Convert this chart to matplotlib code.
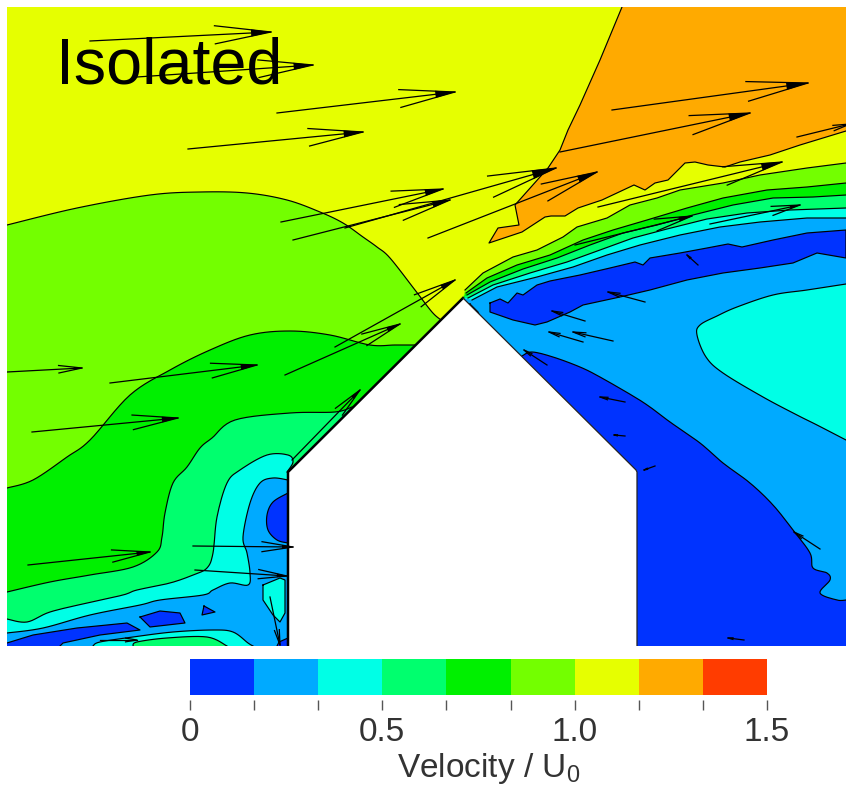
import numpy as np
import matplotlib
matplotlib.use("Agg")
import matplotlib.pyplot as plt

plt.rcParams['font.family'] = ['Liberation Sans', 'DejaVu Sans']
plt.rcParams['mathtext.fontset'] = 'custom'
plt.rcParams['mathtext.rm'] = 'Liberation Sans'

W, H = 846, 786

# velocity bands of the colour scale
levels = np.linspace(0, 1.5, 10)
band_colors = ['#0033FF', '#00AAFF', '#00FFE6', '#00FF6E', '#00F000',
               '#73FF00', '#E6FF00', '#FFAA00', '#FF3C00']
BLUE, LTBLUE, CYAN, SPRING, GREEN, LIME, YELLOW, ORANGE, RED = band_colors
cbar_labels = {0: '0', 3: '0.5', 6: '1.0', 9: '1.5'}

# building outline
building = [(288, 646), (288, 471), (463, 298), (637, 471), (637, 646)]

# contours, image pixel coordinates
left_lime = [(7, 225), (77, 208), (150, 195), (200, 192), (247, 193), (287, 200), (320, 212),
             (343, 223), (363, 237), (377, 247), (390, 258), (415, 290), (432, 312), (441, 320)]
left_green = [(7, 488), (33, 480), (67, 457), (90, 440), (130, 395), (170, 370), (210, 350),
              (250, 335), (290, 331), (330, 335), (370, 345), (395, 345), (415, 345)]
left_spring = [(7, 592), (50, 582), (90, 575), (133, 567), (157, 552), (162, 537), (165, 513),
               (173, 483), (187, 467), (200, 448), (212, 438), (235, 420), (290, 413),
               (335, 412), (352, 407)]
left_cyan = [(7, 619), (27, 622), (50, 612), (87, 603), (123, 595), (137, 590), (170, 583),
             (193, 575), (207, 568), (213, 553), (217, 517), (227, 483), (240, 470),
             (267, 455), (288, 455), (293, 462), (287, 472)]
left_ltblue = [(7, 633), (43, 628), (90, 615), (140, 605), (160, 600), (203, 595), (213, 590),
               (230, 583), (248, 585), (250, 573), (247, 553), (243, 537), (250, 503),
               (260, 483), (273, 478), (288, 480)]
wall_blue = [(288, 493), (273, 502), (267, 515), (268, 530), (277, 540), (288, 543)]
wall_cyan = [(263, 585), (280, 578), (285, 580), (285, 613), (280, 622), (273, 615), (263, 600), (263, 585)]
island_blue = [(140, 617), (160, 611), (180, 613), (185, 623), (150, 627), (140, 617)]
island_tri = [(204, 606), (215, 612), (202, 615), (204, 606)]
corner_blue = [(7, 643), (33, 635), (77, 628), (127, 623), (140, 630), (100, 635), (63, 643), (60, 646)]
floor_cyan = [(93, 646), (100, 642), (133, 637), (173, 632), (213, 630), (233, 632), (248, 643), (253, 646)]
floor_spring = [(133, 646), (137, 642), (167, 638), (207, 637), (227, 646)]
foot_blue = [(277, 646), (279, 642), (288, 638)]

orange = [(622, 7), (600, 60), (580, 105), (568, 130), (560, 150), (548, 168), (515, 205), (519, 225),
          (498, 228), (489, 243), (522, 232), (545, 217), (551, 216), (565, 216), (578, 208),
          (602, 200), (634, 185), (645, 190), (655, 183), (668, 180), (685, 163), (695, 162),
          (708, 165), (725, 167), (740, 162), (770, 155), (800, 145), (846, 131)]
right_lime = [(465, 290), (483, 273), (513, 257), (537, 250), (563, 237), (577, 227), (607, 218),
              (630, 205), (657, 198), (680, 190), (723, 183), (760, 175), (807, 168), (846, 163)]
right_green = [(466, 293), (487, 278), (517, 265), (550, 255), (583, 240), (613, 230), (647, 220),
               (687, 208), (723, 198), (767, 190), (807, 187), (846, 183)]
right_spring = [(467, 295), (490, 282), (523, 269), (557, 258), (590, 245), (623, 233), (657, 225),
                (693, 215), (733, 205), (773, 198), (813, 197), (846, 195)]
right_cyan = [(468, 298), (493, 285), (530, 273), (567, 262), (600, 250), (633, 238), (667, 229),
              (707, 219), (747, 213), (790, 210), (846, 208)]
right_ltblue = [(472, 300), (497, 287), (537, 277), (573, 267), (607, 255), (640, 245), (680, 235),
                (720, 227), (760, 222), (807, 218), (846, 218)]
band_blue = [(490, 303), (500, 299), (508, 303), (517, 293), (523, 295), (537, 285), (550, 281),
             (580, 275), (610, 268), (635, 262), (643, 265), (650, 258), (680, 253), (707, 248),
             (728, 244), (742, 247), (773, 240), (807, 233), (846, 230), (846, 258), (817, 253),
             (793, 263), (760, 268), (723, 273), (687, 280), (650, 290), (620, 297), (583, 305),
             (570, 312), (547, 322), (535, 325), (513, 320), (490, 312), (490, 303)]
bubble = [(846, 440), (817, 425), (797, 415), (763, 397), (723, 373), (706, 357), (697, 335),
          (700, 325), (717, 316), (737, 307), (773, 295), (807, 290), (846, 284)]
lower_blue = [(522, 356), (532, 352), (553, 357), (580, 367), (600, 377), (633, 396), (650, 407),
              (670, 422), (700, 443), (723, 463), (750, 483), (773, 505), (793, 530), (810, 553),
              (813, 568), (827, 573), (830, 580), (820, 593), (837, 600), (846, 600)]
roof_sliver = [(470, 304), (478, 312), (482, 322), (474, 314), (470, 304)]

# velocity arrows: tail and tip, image pixels
arrow_tail_x = [90, 137, 277, 188, 281, 293, 345, 428, 598, 560, 612, 797, 575, 710,
                645, 585, 583, 613, 547, 698, 820, 625, 625, 655, 744,
                7, 110, 285, 335, 32, 28, 193, 195, 292, 100, 270]
arrow_tail_y = [41, 77, 113, 149, 222, 240, 228, 238, 207, 152, 110, 137, 245, 224,
                302, 321, 342, 341, 365, 265, 549, 402, 436, 466, 640,
                372, 383, 375, 347, 432, 565, 546, 570, 460, 640, 597]
arrow_tip_x = [271, 313, 455, 363, 443, 450, 556, 597, 782, 750, 808, 850, 692, 800,
               608, 552, 549, 573, 524, 687, 794, 600, 614, 644, 728,
               82, 257, 400, 455, 178, 150, 293, 287, 360, 137, 280]
arrow_tip_y = [32, 65, 92, 132, 189, 200, 168, 172, 162, 113, 83, 124, 216, 205,
               292, 311, 332, 332, 350, 255, 532, 397, 435, 470, 638,
               368, 365, 324, 280, 418, 552, 547, 576, 390, 640, 645]


def rounded(pts, steps=8):
    # Catmull-Rom through the read points, only to take the corners off the drawn line
    p = np.array(pts, dtype=float)
    p = np.vstack([p[0], p, p[-1]])
    out = []
    for i in range(1, len(p) - 2):
        t = np.linspace(0, 1, steps, endpoint=False)[:, None]
        a, b, c, d = p[i - 1], p[i], p[i + 1], p[i + 2]
        out.append(0.5 * (2 * b + (c - a) * t + (2 * a - 5 * b + 4 * c - d) * t ** 2
                          + (3 * b - a - 3 * c + d) * t ** 3))
    out.append(p[-1][None, :])
    return [tuple(q) for q in np.vstack(out)]


def draw_contour(ax, pts, color, closure=None, smooth=False):
    # fill the band under a contour, then trace the contour itself
    if smooth:
        pts = rounded(pts)
    xs, ys = zip(*pts)
    fill_pts = list(pts) + (closure or [])
    fx, fy = zip(*fill_pts)
    ax.fill(fx, fy, color=color, lw=0, zorder=2)
    ax.plot(xs, ys, color='black', lw=0.85, zorder=3, solid_joinstyle='round')


def draw_arrow(ax, x0, y0, x1, y1):
    # long shaft, two open barbs and a small dark dart at the tip
    d = np.array([x1 - x0, y1 - y0], dtype=float)
    n = np.array([-d[1], d[0]])
    tip = np.array([x1, y1], dtype=float)
    b1 = tip - 0.31 * d + 0.05 * n
    b2 = tip - 0.31 * d - 0.05 * n
    ax.plot([x0, x1], [y0, y1], color='black', lw=0.9, zorder=5)
    ax.plot([b1[0], x1, b2[0]], [b1[1], y1, b2[1]], color='black', lw=0.9, zorder=5)
    c = tip - 0.11 * d
    dart = np.array([tip, c + 0.02 * n, c - 0.02 * n])
    ax.fill(dart[:, 0], dart[:, 1], color='black', lw=0, zorder=5)


fig = plt.figure(figsize=(W / 100, H / 100), dpi=100, facecolor='white')

ax = fig.add_axes([7 / W, 1 - 646 / H, 839 / W, 639 / H])
ax.set_xlim(7, 846)
ax.set_ylim(646, 7)
ax.axis('off')
ax.fill([7, 846, 846, 7], [7, 7, 646, 646], color=YELLOW, lw=0, zorder=1)

draw_contour(ax, orange, ORANGE, [(846, 7)])

draw_contour(ax, left_lime, LIME, [(441, 646), (7, 646)], smooth=True)
draw_contour(ax, left_green, GREEN, [(415, 646), (7, 646)], smooth=True)
draw_contour(ax, left_spring, SPRING, [(352, 646), (7, 646)], smooth=True)
draw_contour(ax, left_cyan, CYAN, [(288, 646), (7, 646)], smooth=True)
draw_contour(ax, left_ltblue, LTBLUE, [(288, 646), (7, 646)], smooth=True)
draw_contour(ax, wall_blue, BLUE, smooth=True)
draw_contour(ax, wall_cyan, CYAN)
draw_contour(ax, island_blue, BLUE)
draw_contour(ax, island_tri, BLUE)
draw_contour(ax, corner_blue, BLUE, [(7, 646)])
draw_contour(ax, floor_cyan, CYAN, smooth=True)
draw_contour(ax, floor_spring, SPRING, smooth=True)
draw_contour(ax, foot_blue, BLUE, [(288, 646)])

draw_contour(ax, right_lime, LIME, [(846, 646), (463, 646), (463, 298)])
draw_contour(ax, right_green, GREEN, [(846, 646), (463, 646), (463, 298)])
draw_contour(ax, right_spring, SPRING, [(846, 646), (463, 646), (463, 298)])
draw_contour(ax, right_cyan, CYAN, [(846, 646), (463, 646), (463, 298)])
draw_contour(ax, right_ltblue, LTBLUE, [(846, 646), (463, 646), (463, 298)])
draw_contour(ax, band_blue, BLUE)
draw_contour(ax, bubble, CYAN, smooth=True)
draw_contour(ax, lower_blue, BLUE, [(846, 646), (500, 646)], smooth=True)
draw_contour(ax, roof_sliver, BLUE)

# building sits on top of the field
bx, by = zip(*building)
ax.fill(bx, by, color='white', lw=0, zorder=4)
ax.plot([288, 288, 463], [646, 472, 298], color='black', lw=1.8, zorder=6)
ax.plot([463, 636, 637, 637], [298, 470, 472, 646], color='#222222', lw=0.9, zorder=6)

for x0, y0, x1, y1 in zip(arrow_tail_x, arrow_tail_y, arrow_tip_x, arrow_tip_y):
    draw_arrow(ax, x0, y0, x1, y1)

ax.text(56, 84, 'Isolated', fontsize=46.5, color='black', va='baseline', ha='left', zorder=7)

# colour scale
cax = fig.add_axes([190 / W, 1 - 695 / H, 577 / W, 36 / H])
cax.pcolormesh(levels, [0, 1], levels[:-1].reshape(1, -1) + 0.01,
               cmap=matplotlib.colors.ListedColormap(band_colors),
               norm=matplotlib.colors.BoundaryNorm(levels, 9))
cax.set_yticks([])
for name in ['top', 'left', 'right', 'bottom']:
    cax.spines[name].set_visible(False)
cax.spines['bottom'].set_position(('outward', 3.5))
cax.set_xticks(levels)
cax.set_xticklabels([cbar_labels.get(i, '') for i in range(len(levels))])
cax.tick_params(axis='x', length=7, width=1, color='#555555', labelsize=24,
                labelcolor='#333333', pad=5)
cax.set_xlabel('Velocity / U$_{\\mathrm{0}}$', fontsize=24, color='#333333')
cax.xaxis.set_label_coords((489 - 190) / 577, -1.55)

fig.savefig('out.png', dpi=100, facecolor='white')
